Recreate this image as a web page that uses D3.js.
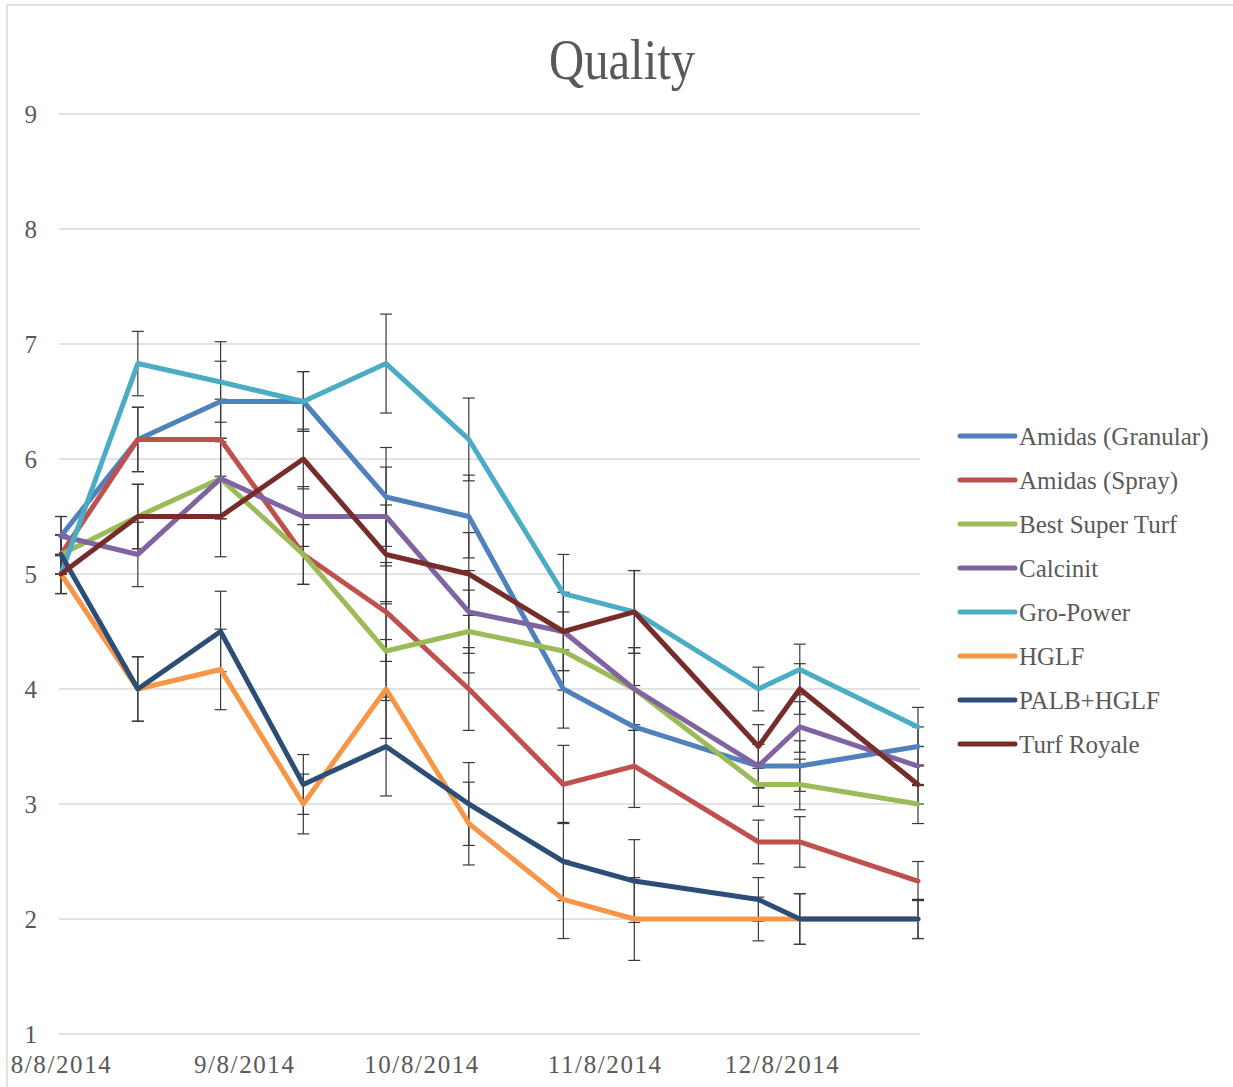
<!DOCTYPE html>
<html>
<head>
<meta charset="utf-8">
<title>Quality</title>
<script src="https://d3js.org/d3.v7.min.js"></script>
<style>
  body { margin: 0; background: #fff; }
  svg text { font-family: "Liberation Serif", "Times New Roman", serif; fill: #595959; }
</style>
</head>
<body>
<script>
var width = 1233;
var height = 1087;

// sampling dates and the error (same for every treatment on a date)
var dates = ["8/8/2014", "8/21/2014", "9/4/2014", "9/18/2014", "10/2/2014", "10/16/2014",
             "11/1/2014", "11/13/2014", "12/4/2014", "12/11/2014", "12/31/2014"];
var errors = [0.17, 0.28, 0.35, 0.26, 0.43, 0.36, 0.34, 0.36, 0.19, 0.22, 0.17];

var seriesNames = ["Amidas (Granular)", "Amidas (Spray)", "Best Super Turf", "Calcinit",
                   "Gro-Power", "HGLF", "PALB+HGLF", "Turf Royale"];
var seriesColors = ["#4f81bd", "#c0504d", "#9bbb59", "#8064a2",
                    "#4bacc6", "#f79646", "#2c4d75", "#772c2a"];

var amidasGranular = [5.33, 6.17, 6.5, 6.5, 5.67, 5.5, 4.0, 3.67, 3.33, 3.33, 3.5];
var amidasSpray    = [5.17, 6.17, 6.17, 5.17, 4.67, 4.0, 3.17, 3.33, 2.67, 2.67, 2.33];
var bestSuperTurf  = [5.17, 5.5, 5.83, 5.17, 4.33, 4.5, 4.33, 4.0, 3.17, 3.17, 3.0];
var calcinit       = [5.33, 5.17, 5.83, 5.5, 5.5, 4.67, 4.5, 4.0, 3.33, 3.67, 3.33];
var groPower       = [5.0, 6.83, 6.67, 6.5, 6.83, 6.17, 4.83, 4.67, 4.0, 4.17, 3.67];
var hglf           = [5.0, 4.0, 4.17, 3.0, 4.0, 2.83, 2.17, 2.0, 2.0, 2.0, 2.0];
var palbHglf       = [5.17, 4.0, 4.5, 3.17, 3.5, 3.0, 2.5, 2.33, 2.17, 2.0, 2.0];
var turfRoyale     = [5.0, 5.5, 5.5, 6.0, 5.17, 5.0, 4.5, 4.67, 3.5, 4.0, 3.17];

var xTickLabels = ["8/8/2014", "9/8/2014", "10/8/2014", "11/8/2014", "12/8/2014"];
var yTicks = [1, 2, 3, 4, 5, 6, 7, 8, 9];

var values = [amidasGranular, amidasSpray, bestSuperTurf, calcinit,
              groPower, hglf, palbHglf, turfRoyale];

var parse = d3.timeParse("%m/%d/%Y");
var days = dates.map(parse);

var series = seriesNames.map(function(name, i) {
  return {
    name: name,
    color: seriesColors[i],
    points: values[i].map(function(v, j) { return {date: days[j], value: v, err: errors[j]}; })
  };
});

var xScale = d3.scaleTime()
    .domain(d3.extent(days))
    .range([61, 918]);

var yScale = d3.scaleLinear()
    .domain([1, 9])
    .range([1034, 114]);

var svg = d3.select("body")
  .append("svg")
    .attr("width", width)
    .attr("height", height);

// chart frame (only top and left edges fall inside the picture)
svg.append("rect")
    .attr("x", 7)
    .attr("y", 5)
    .attr("width", width + 20)
    .attr("height", height + 20)
    .attr("fill", "none")
    .attr("stroke", "#d9d9d9")
    .attr("stroke-width", 1.5);

// gridlines
svg.append("g")
    .classed("grid", true)
  .selectAll("line")
  .data(yTicks)
  .enter()
  .append("line")
    .attr("x1", 59)
    .attr("x2", 920)
    .attr("y1", function(d) { return yScale(d); })
    .attr("y2", function(d) { return yScale(d); })
    .attr("stroke", "#d9d9d9")
    .attr("stroke-width", 1.5);

// y axis labels
var yAxis = d3.axisLeft(yScale)
    .tickValues(yTicks)
    .tickSize(0)
    .tickPadding(0)
    .tickFormat(d3.format("d"));

svg.append("g")
    .classed("y-axis", true)
    .attr("transform", "translate(37,0)")
    .call(yAxis)
    .call(function(g) { g.select(".domain").remove(); })
    .attr("font-size", 25)
    .attr("font-family", null)
  .selectAll("text")
    .attr("dy", 8)
    .attr("fill", null);

// x axis labels
var xAxis = d3.axisBottom(xScale)
    .tickValues(xTickLabels.map(parse))
    .tickSize(0)
    .tickPadding(0)
    .tickFormat(d3.timeFormat("%-m/%-d/%Y"));

svg.append("g")
    .classed("x-axis", true)
    .attr("transform", "translate(0,1073)")
    .call(xAxis)
    .call(function(g) { g.select(".domain").remove(); })
    .attr("font-size", 25)
    .attr("font-family", null)
  .selectAll("text")
    .attr("dy", 0)
    .attr("y", 0)
    .attr("fill", null)
    .style("letter-spacing", "1.6px");

// error bars, under the lines
var bars = svg.append("g").classed("error-bars", true)
  .selectAll("g")
  .data(series)
  .enter()
  .append("g")
  .selectAll("g")
  .data(function(d) { return d.points; })
  .enter()
  .append("g")
    .attr("stroke", "#3a3a3a")
    .attr("stroke-width", 1.2);

bars.append("line")
    .attr("x1", function(d) { return xScale(d.date); })
    .attr("x2", function(d) { return xScale(d.date); })
    .attr("y1", function(d) { return yScale(d.value - d.err); })
    .attr("y2", function(d) { return yScale(d.value + d.err); });

[-1, 1].forEach(function(sign) {
  bars.append("line")
      .attr("x1", function(d) { return xScale(d.date) - 6; })
      .attr("x2", function(d) { return xScale(d.date) + 6; })
      .attr("y1", function(d) { return yScale(d.value + sign * d.err); })
      .attr("y2", function(d) { return yScale(d.value + sign * d.err); });
});

// lines
var line = d3.line()
    .x(function(d) { return xScale(d.date); })
    .y(function(d) { return yScale(d.value); });

svg.append("g")
    .classed("lines", true)
  .selectAll("path")
  .data(series)
  .enter()
  .append("path")
    .attr("d", function(d) { return line(d.points); })
    .attr("fill", "none")
    .attr("stroke", function(d) { return d.color; })
    .attr("stroke-width", 5)
    .attr("stroke-linejoin", "round")
    .attr("stroke-linecap", "round");

// title
svg.append("text")
    .attr("transform", "translate(622,79) scale(0.87,1)")
    .attr("text-anchor", "middle")
    .attr("font-size", 56)
    .text("Quality");

// legend
var legend = svg.append("g")
    .classed("legend", true)
  .selectAll("g")
  .data(series)
  .enter()
  .append("g")
    .attr("transform", function(d, i) { return "translate(960," + (436 + i * 44) + ")"; });

legend.append("line")
    .attr("x1", 0)
    .attr("x2", 55)
    .attr("stroke", function(d) { return d.color; })
    .attr("stroke-width", 5)
    .attr("stroke-linecap", "round");

legend.append("text")
    .attr("x", 59)
    .attr("y", 8.5)
    .attr("font-size", 25)
    .text(function(d) { return d.name; });
</script>
</body>
</html>
